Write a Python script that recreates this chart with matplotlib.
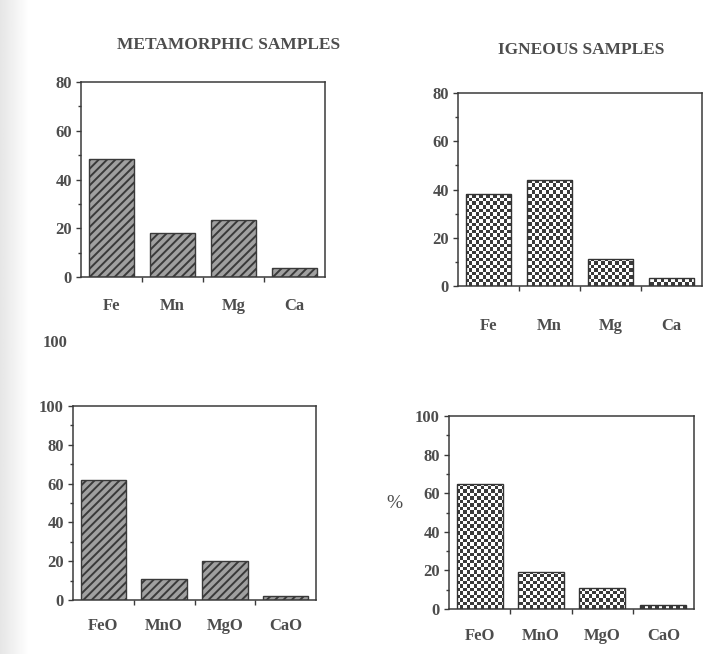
import numpy as np
import matplotlib
matplotlib.use('Agg')
import matplotlib.pyplot as plt
from matplotlib.ticker import MultipleLocator, FixedLocator
from matplotlib.colors import ListedColormap

# ---- data ----
elements = ['Fe', 'Mn', 'Mg', 'Ca']
oxides = ['FeO', 'MnO', 'MgO', 'CaO']
meta_elem = [48.5, 18, 23.5, 3.5]
ign_elem = [38, 44, 11, 3.5]
meta_ox = [62, 11, 20, 2]
ign_ox = [65, 19, 11, 2]
titles = ['METAMORPHIC SAMPLES', 'IGNEOUS SAMPLES']

plt.rcParams['font.family'] = ['Liberation Serif', 'DejaVu Serif']
plt.rcParams['font.weight'] = 'bold'
plt.rcParams['hatch.linewidth'] = 1.4

TXT = '#4d4d4d'
LINE = '#3a3a3a'
W, H = 713, 654
fig = plt.figure(figsize=(W / 100, H / 100), dpi=100)
fig.patch.set_facecolor('white')

# faint scanner shadow on the left edge
bg = fig.add_axes([0, 0, 1, 1], zorder=-5)
bg.axis('off')
grad = np.linspace(0.90, 1.0, 30)
bg.imshow(np.tile(grad, (2, 1)), cmap='gray', vmin=0, vmax=1, aspect='auto',
          extent=(0, 30 / W, 0, 1), transform=bg.transAxes, interpolation='bilinear')
bg.set_xlim(0, 1)
bg.set_ylim(0, 1)


def box(l, t, r, b):
    return [l / W, 1 - b / H, (r - l) / W, (b - t) / H]


def style(ax, ymax, labels, pad):
    ax.set_xlim(-0.5, 3.5)
    ax.set_ylim(0, ymax)
    ax.set_xticks(range(len(labels)))
    ax.set_xticklabels(labels, fontsize=12, fontweight='bold', color=TXT)
    ax.xaxis.set_minor_locator(FixedLocator([0.5, 1.5, 2.5]))
    ax.tick_params(axis='x', which='major', length=0, pad=pad)
    ax.tick_params(axis='x', which='minor', length=3.5, width=1, color=LINE, direction='out')
    ax.yaxis.set_major_locator(MultipleLocator(20))
    ax.yaxis.set_minor_locator(MultipleLocator(10))
    ax.tick_params(axis='y', which='major', length=3.5, width=1, color=LINE,
                   direction='out', pad=3, labelsize=12, labelcolor=TXT)
    ax.tick_params(axis='y', which='minor', length=2.5, width=1, color=LINE, direction='out')
    for lab in ax.get_yticklabels():
        lab.set_fontweight('bold')
    for sp in ax.spines.values():
        sp.set_color(LINE)
        sp.set_linewidth(1.1)


def hatched(ax, vals):
    ax.bar(range(len(vals)), vals, width=0.75, color='#a0a0a0',
           edgecolor='#3a3a3a', hatch='////', linewidth=1.0, zorder=2)


def checkered(ax, vals, wpx, hpx):
    bars = ax.bar(range(len(vals)), vals, width=0.75, facecolor='none',
                  edgecolor='#333333', linewidth=1.0, zorder=3)
    cell = 3.5
    nx, ny = int(round(wpx / cell)), int(round(hpx / cell))
    arr = np.indices((ny, nx)).sum(axis=0) % 2
    cmap = ListedColormap(['white', '#3a3a3a'])
    for b in bars:
        im = ax.imshow(arr, cmap=cmap, extent=(0, 1, 0, 1), transform=ax.transAxes,
                       interpolation='nearest', aspect='auto', zorder=1.5)
        im.set_clip_path(b)


# top-left: metamorphic elements
b = (81, 82, 325, 277)
ax1 = fig.add_axes(box(*b))
hatched(ax1, meta_elem)
style(ax1, 80, elements, 15)

# top-right: igneous elements
b = (458, 93, 702, 286)
ax2 = fig.add_axes(box(*b))
checkered(ax2, ign_elem, b[2] - b[0], b[3] - b[1])
style(ax2, 80, elements, 23)

# bottom-left: metamorphic oxides
b = (73, 406, 316, 600)
ax3 = fig.add_axes(box(*b))
hatched(ax3, meta_ox)
style(ax3, 100, oxides, 13)

# bottom-right: igneous oxides
b = (449, 416, 694, 609)
ax4 = fig.add_axes(box(*b))
checkered(ax4, ign_ox, b[2] - b[0], b[3] - b[1])
style(ax4, 100, oxides, 14)

fig.text(229 / W, 1 - 45 / H, titles[0], ha='center', va='center',
         fontsize=12.5, fontweight='bold', color=TXT)
fig.text(581 / W, 1 - 50 / H, titles[1], ha='center', va='center',
         fontsize=12.5, fontweight='bold', color=TXT)
fig.text(55 / W, 1 - 343 / H, '100', ha='center', va='center',
         fontsize=12, fontweight='bold', color=TXT)
fig.text(394 / W, 1 - 503 / H, '%', ha='center', va='center',
         fontsize=14, fontweight='normal', color=TXT)

fig.savefig('out.png', dpi=100, facecolor='white')
